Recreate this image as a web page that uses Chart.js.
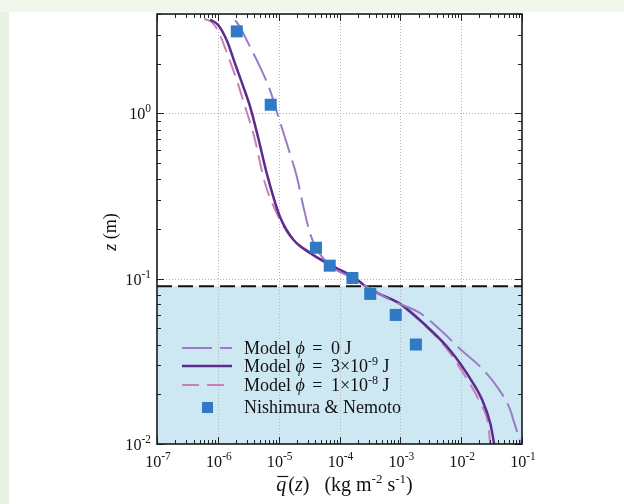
<!DOCTYPE html>
<html>
<head>
<meta charset="utf-8">
<script src="https://cdn.jsdelivr.net/npm/chart.js@4.4.1/dist/chart.umd.min.js"></script>
<style>
  html, body { margin: 0; padding: 0; }
  body { width: 624px; height: 504px; background: #f2f7ee; position: relative; overflow: hidden; }
  #strip { position: absolute; left: 0; top: 12px; width: 9px; height: 492px; background: #e9f2e0; }
  #paper { position: absolute; left: 9px; top: 12px; width: 615px; height: 492px; background: #fff; }
  #chart { position: absolute; left: 0; top: 0; }
</style>
</head>
<body>
<div id="strip"></div>
<div id="paper"></div>
<canvas id="chart" width="624" height="504"></canvas>
<script>
// model, phi = 0 J
const qPhi0 = [1.92e-6, 2.17e-6, 3.39e-6, 4.95e-6, 7.23e-6, 9.9e-6, 1.36e-5, 1.99e-5, 2.55e-5, 3.28e-5, 4.12e-5, 7.0e-5, 1.49e-4, 2.64e-4, 6.8e-4, 2.12e-3, 4.52e-3, 1.0e-2, 2.05e-2, 3.86e-2, 6.4e-2, 7.2e-2, 9.6e-2];
const zPhi0 = [3.66, 3.46, 2.53, 1.91, 1.38, 0.954, 0.659, 0.414, 0.273, 0.188, 0.154, 0.120, 0.1025, 0.0905, 0.0745, 0.0619, 0.0491, 0.0371, 0.0294, 0.0223, 0.0161, 0.0140, 0.0101];
// model, phi = 3e-9 J
const qPhi3 = [7.45e-7, 1.02e-6, 1.40e-6, 1.92e-6, 2.63e-6, 3.39e-6, 4.64e-6, 6.37e-6, 1.05e-5, 1.75e-5, 3.72e-5, 1.02e-4, 1.69e-4, 2.64e-4, 4.66e-4, 9.93e-4, 2.73e-3, 5.82e-3, 1.0e-2, 1.52e-2, 2.21e-2, 3.0e-2, 3.49e-2];
const zPhi3 = [3.71, 3.42, 2.77, 2.00, 1.45, 1.10, 0.706, 0.434, 0.237, 0.172, 0.139, 0.113, 0.103, 0.0905, 0.0804, 0.0705, 0.0514, 0.0389, 0.0301, 0.0238, 0.0185, 0.0134, 0.0100];
// model, phi = 1e-8 J
const qPhi1 = [6.0e-7, 8.43e-7, 1.09e-6, 1.49e-6, 2.05e-6, 2.80e-6, 3.84e-6, 5.97e-6, 9.3e-6, 1.54e-5, 3.28e-5, 1.02e-4, 2.64e-4, 9.9e-4, 2.73e-3, 5.82e-3, 1.0e-2, 2.05e-2, 2.81e-2, 3.0e-2];
const zPhi1 = [3.75, 3.50, 2.97, 2.20, 1.59, 1.10, 0.757, 0.378, 0.249, 0.181, 0.145, 0.1125, 0.0905, 0.0698, 0.0508, 0.0377, 0.0281, 0.0177, 0.0128, 0.0100];
// Nishimura & Nemoto measurements
const qObs = [2.05e-6, 7.4e-6, 4.1e-5, 6.9e-5, 1.63e-4, 3.2e-4, 8.4e-4, 1.8e-3];
const zObs = [3.14, 1.13, 0.154, 0.120, 0.101, 0.081, 0.0604, 0.040];

const zBed = 0.09;           // top of the shaded layer
const xExp = [-7, -6, -5, -4, -3, -2, -1];
const yExp = [-2, -1, 0];
const xMin = 1e-7, xMax = 1e-1, yMin = 1e-2, yMax = 4;

const SERIF = "'Liberation Serif', 'Times New Roman', serif";
const pts = (xs, ys) => xs.map((x, i) => ({ x: x, y: ys[i] }));

// text made of pieces: {t, f, dy}
function rich(ctx, segs, x, y, align, sx) {
  sx = sx || 1;
  let w = 0;
  segs.forEach(s => { ctx.font = s.f; s.w = ctx.measureText(s.t).width * sx + (s.pad || 0); w += s.w; });
  let cx = align === 'center' ? x - w / 2 : align === 'right' ? x - w : x;
  segs.forEach(s => {
    ctx.save();
    ctx.font = s.f;
    ctx.textAlign = 'left';
    ctx.textBaseline = 'alphabetic';
    ctx.fillStyle = '#111';
    ctx.translate(cx, y + (s.dy || 0));
    ctx.scale(sx, 1);
    ctx.fillText(s.t, 0, 0);
    ctx.restore();
    s.x0 = cx;
    cx += s.w;
  });
  return segs;
}

const pow10 = () => ({ t: '10', f: '17px ' + SERIF });
const sup = t => ({ t: t, f: '12px ' + SERIF, dy: -7 });

const frame = {
  id: 'frame',
  beforeDraw(chart) {
    const { ctx, chartArea: a, scales: { y } } = chart;
    ctx.save();
    ctx.fillStyle = '#cde8f3';
    const yb = y.getPixelForValue(zBed);
    ctx.fillRect(a.left, yb, a.right - a.left, a.bottom - yb);
    ctx.restore();
  },
  beforeDatasetsDraw(chart) {
    const { ctx, chartArea: a, scales: { x, y } } = chart;
    ctx.save();
    ctx.strokeStyle = '#b4b4b4';
    ctx.lineWidth = 1;
    ctx.setLineDash([1, 2]);
    xExp.forEach(e => {
      const px = Math.round(x.getPixelForValue(Math.pow(10, e))) + 0.5;
      if (px <= a.left + 1 || px >= a.right - 1) return;
      ctx.beginPath(); ctx.moveTo(px, a.top); ctx.lineTo(px, a.bottom); ctx.stroke();
    });
    yExp.forEach(e => {
      const py = Math.round(y.getPixelForValue(Math.pow(10, e))) + 0.5;
      if (py <= a.top + 1 || py >= a.bottom - 1) return;
      ctx.beginPath(); ctx.moveTo(a.left, py); ctx.lineTo(a.right, py); ctx.stroke();
    });
    // bed level
    ctx.strokeStyle = '#111';
    ctx.lineWidth = 2;
    ctx.setLineDash([15, 6]);
    const yb = y.getPixelForValue(zBed);
    ctx.beginPath(); ctx.moveTo(a.left, yb); ctx.lineTo(a.right, yb); ctx.stroke();
    ctx.restore();
  },
  afterDraw(chart) {
    const { ctx, chartArea: a, scales: { x, y } } = chart;
    ctx.save();
    // tick marks on all four sides
    ctx.strokeStyle = '#222';
    ctx.lineWidth = 1;
    const xt = [], yt = [];
    xExp.forEach(e => {
      xt.push([Math.pow(10, e), 7]);
      if (e < -1) for (let m = 2; m <= 9; m++) xt.push([m * Math.pow(10, e), 4]);
    });
    yExp.forEach(e => {
      yt.push([Math.pow(10, e), 7]);
      for (let m = 2; m <= 9; m++) if (m * Math.pow(10, e) <= yMax) yt.push([m * Math.pow(10, e), 4]);
    });
    xt.forEach(([v, l]) => {
      const px = Math.round(x.getPixelForValue(v)) + 0.5;
      ctx.beginPath();
      ctx.moveTo(px, a.bottom); ctx.lineTo(px, a.bottom - l);
      ctx.moveTo(px, a.top); ctx.lineTo(px, a.top + l);
      ctx.stroke();
    });
    yt.forEach(([v, l]) => {
      const py = Math.round(y.getPixelForValue(v)) + 0.5;
      ctx.beginPath();
      ctx.moveTo(a.left, py); ctx.lineTo(a.left + l, py);
      ctx.moveTo(a.right, py); ctx.lineTo(a.right - l, py);
      ctx.stroke();
    });
    // plot border
    ctx.lineWidth = 1.6;
    ctx.strokeStyle = '#1a1a1a';
    ctx.strokeRect(a.left, a.top, a.right - a.left, a.bottom - a.top);

    // tick labels
    xExp.forEach(e => {
      rich(ctx, [pow10(), sup(String(e))], x.getPixelForValue(Math.pow(10, e)) + 1, a.bottom + 23, 'center', 0.95);
    });
    yExp.forEach(e => {
      rich(ctx, [pow10(), sup(String(e))], a.left - 6, y.getPixelForValue(Math.pow(10, e)) + 6, 'right', 0.95);
    });

    // axis titles
    const fT = '20px ' + SERIF, fI = 'italic 20px ' + SERIF;
    const xs = rich(ctx, [
      { t: 'q', f: fI, pad: 2 }, { t: '(', f: fT }, { t: 'z', f: fI }, { t: ')', f: fT },
      { t: '   (kg m', f: fT }, { t: '-2', f: '13px ' + SERIF, dy: -8 },
      { t: ' s', f: fT }, { t: '-1', f: '13px ' + SERIF, dy: -8 }, { t: ')', f: fT }
    ], (a.left + a.right) / 2 + 5, 491, 'center');
    ctx.strokeStyle = '#111';
    ctx.lineWidth = 1.2;
    ctx.beginPath();
    ctx.moveTo(xs[0].x0 + 1, 476.5); ctx.lineTo(xs[0].x0 + xs[0].w, 476.5);
    ctx.stroke();

    ctx.save();
    ctx.translate(116, 232);
    ctx.rotate(-Math.PI / 2);
    rich(ctx, [{ t: 'z', f: 'italic 18px ' + SERIF }, { t: ' (m)', f: '18px ' + SERIF }], 0, 0, 'center');
    ctx.restore();

    // legend inside the plot
    const fL = '18px ' + SERIF, fLI = 'italic 18px ' + SERIF, fLs = '12px ' + SERIF;
    const rows = [
      { ds: 0, y: 348, text: [{ t: 'Model ', f: fL }, { t: 'ϕ', f: fLI, pad: 3 }, { t: ' = ', f: fL, pad: 4 }, { t: '0 J', f: fL }] },
      { ds: 1, y: 366, text: [{ t: 'Model ', f: fL }, { t: 'ϕ', f: fLI, pad: 3 }, { t: ' = ', f: fL, pad: 4 }, { t: '3×10', f: fL }, { t: '-9', f: fLs, dy: -7 }, { t: ' J', f: fL }] },
      { ds: 2, y: 385, text: [{ t: 'Model ', f: fL }, { t: 'ϕ', f: fLI, pad: 3 }, { t: ' = ', f: fL, pad: 4 }, { t: '1×10', f: fL }, { t: '-8', f: fLs, dy: -7 }, { t: ' J', f: fL }] },
      { ds: 3, y: 407, text: [{ t: 'Nishimura & Nemoto', f: fL }] }
    ];
    rows.forEach(r => {
      const d = chart.data.datasets[r.ds];
      if (r.ds < 3) {
        ctx.save();
        ctx.strokeStyle = d.borderColor;
        ctx.lineWidth = d.borderWidth;
        ctx.setLineDash(d.borderDash || []);
        ctx.beginPath(); ctx.moveTo(182, r.y); ctx.lineTo(232, r.y); ctx.stroke();
        ctx.restore();
      } else {
        ctx.fillStyle = d.backgroundColor;
        ctx.fillRect(202, r.y - 5, 11, 11);
      }
      rich(ctx, r.text, 244, r.y + 6, 'left');
    });
    ctx.restore();
  }
};

const curve = { showLine: true, pointRadius: 0, cubicInterpolationMode: 'monotone' };

new Chart(document.getElementById('chart'), {
  type: 'scatter',
  data: {
    datasets: [
      Object.assign({
        label: 'Model ϕ = 0 J',
        data: pts(qPhi0, zPhi0),
        borderColor: '#9a7cc6', borderWidth: 2, borderDash: [30, 8]
      }, curve),
      Object.assign({
        label: 'Model ϕ = 3×10-9 J',
        data: pts(qPhi3, zPhi3),
        borderColor: '#5b2b8e', borderWidth: 2.5
      }, curve),
      Object.assign({
        label: 'Model ϕ = 1×10-8 J',
        data: pts(qPhi1, zPhi1),
        borderColor: '#c67fb8', borderWidth: 2, borderDash: [17, 8]
      }, curve),
      {
        label: 'Nishimura & Nemoto',
        data: pts(qObs, zObs),
        showLine: false, order: -1,
        pointStyle: 'rect', pointRadius: 8.5,
        backgroundColor: '#3079c4', borderColor: '#3079c4', borderWidth: 0
      }
    ]
  },
  options: {
    responsive: false,
    animation: false,
    layout: { padding: { left: 157, right: 102, top: 14, bottom: 60 } },
    plugins: { legend: { display: false }, tooltip: { enabled: false } },
    scales: {
      x: { type: 'logarithmic', min: xMin, max: xMax, display: false },
      y: { type: 'logarithmic', min: yMin, max: yMax, display: false }
    }
  },
  plugins: [frame]
});
</script>
</body>
</html>
